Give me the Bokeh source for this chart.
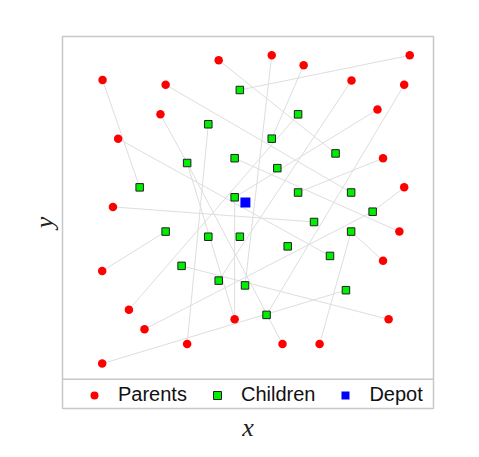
from bokeh.plotting import figure
from bokeh.models import Range1d, Span, Legend, LegendItem, ColumnDataSource, FixedTicker
from bokeh.embed import file_html
from bokeh.resources import INLINE

# Parents (red circles)
parent_x = [42.1, 10.8, 27.8, 26.4, 15.0, 13.6, 56.4, 65.0, 93.6, 77.9, 92.1, 84.9, 86.4,
            92.1, 10.7, 17.9, 22.1, 33.6, 10.7, 46.4, 59.3, 69.3, 87.9, 86.4, 90.8]
parent_y = [93.1, 87.3, 85.9, 77.3, 70.2, 50.3, 94.5, 91.6, 94.5, 87.2, 85.9, 78.7, 64.5,
            56.0, 31.6, 20.3, 14.6, 10.3, 4.6, 17.5, 10.3, 10.3, 17.5, 34.6, 43.1]

# Children (green squares)
child_x = [47.8, 39.3, 46.4, 33.6, 20.8, 46.4, 63.5, 56.4, 73.6, 57.9, 63.5, 77.8, 83.6,
           27.8, 39.3, 47.8, 32.1, 42.1, 49.2, 67.8, 77.8, 60.7, 72.1, 76.4, 55.0]
child_y = [84.4, 74.4, 64.5, 63.1, 56.0, 53.1, 77.3, 70.2, 65.9, 61.6, 54.5, 54.5, 48.9,
           43.1, 41.6, 41.6, 33.1, 28.8, 27.4, 45.9, 43.1, 38.8, 36.0, 26.0, 18.8]

# Depot (blue square)
depot_x = [49.3]
depot_y = [51.6]

# Links: parent index -> child index
edge_parent = [0, 1, 2, 3, 4, 5, 6, 7, 8, 9, 10, 11, 12, 13, 14, 15, 16, 17, 18, 19, 19, 20, 21, 22, 23, 24]
edge_child = [8, 4, 11, 3, 22, 19, 18, 7, 0, 17, 24, 5, 10, 12, 13, 6, 12, 1, 23, 3, 5, 3, 20, 16, 20, 2]

edges = ColumnDataSource(dict(
    x0=[parent_x[i] for i in edge_parent],
    y0=[parent_y[i] for i in edge_parent],
    x1=[child_x[j] for j in edge_child],
    y1=[child_y[j] for j in edge_child],
))

p = figure(frame_width=371, frame_height=372,
           x_range=Range1d(0, 100), y_range=Range1d(-8.5, 100),
           output_backend="svg", toolbar_location=None,
           min_border_left=62, min_border_right=30, min_border_top=36, min_border_bottom=38)

p.background_fill_color = "white"
p.border_fill_color = "white"
p.outline_line_color = "#c8c8c8"
p.outline_line_width = 1.5
p.xgrid.visible = False
p.ygrid.visible = False

for ax in (p.xaxis, p.yaxis):
    ax.ticker = FixedTicker(ticks=[])
    ax.axis_line_color = None
    ax.major_tick_line_color = None
    ax.minor_tick_line_color = None
    ax.major_tick_out = 0
    ax.major_tick_in = 0
    ax.minor_tick_out = 0
    ax.major_label_standoff = 0
    ax.axis_label_text_font = "Liberation Serif"
    ax.axis_label_text_font_style = "italic"
    ax.axis_label_text_font_size = "26px"
    ax.axis_label_text_color = "#222222"
    ax.axis_label_standoff = 4

p.xaxis.axis_label = "x"
p.yaxis.axis_label = "y"

p.segment(x0="x0", y0="y0", x1="x1", y1="y1", source=edges,
          line_color="#dedede", line_width=1)

r_par = p.scatter(parent_x, parent_y, marker="circle", size=8.5,
                  fill_color="#ff0000", line_color=None)
r_chi = p.scatter(child_x, child_y, marker="square", size=7.5,
                  fill_color="#00ee00", line_color="#202020", line_width=1)
r_dep = p.scatter(depot_x, depot_y, marker="square", size=10,
                  fill_color="#0000ff", line_color=None)

p.add_layout(Span(location=0, dimension="width", line_color="#c8c8c8", line_width=1.5))

legend = Legend(items=[LegendItem(label="Parents", renderers=[r_par]),
                       LegendItem(label="Children", renderers=[r_chi]),
                       LegendItem(label="Depot", renderers=[r_dep])],
                orientation="horizontal", location=(22, 2),
                glyph_width=20, glyph_height=20, label_standoff=14, spacing=20,
                padding=0, margin=0, border_line_color=None, background_fill_alpha=0,
                label_text_font="Liberation Sans", label_text_font_size="20px",
                label_text_color="#111111")
p.add_layout(legend)

open("out.html", "w").write(file_html(p, INLINE))
